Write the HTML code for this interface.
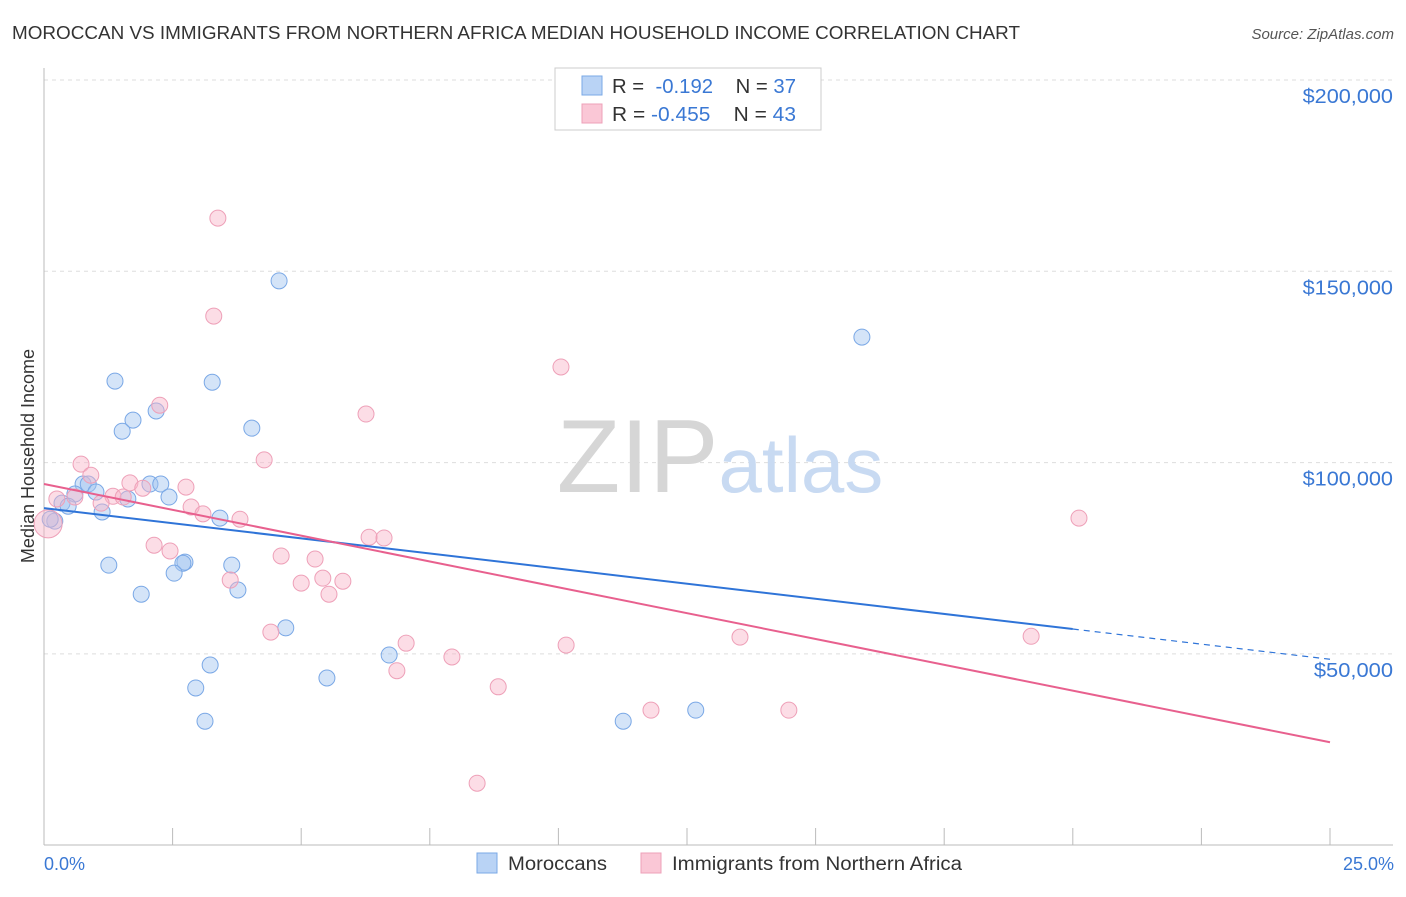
<!DOCTYPE html>
<html><head><meta charset="utf-8"><style>
body{margin:0;background:#fff;font-family:"Liberation Sans",sans-serif;}
svg text{font-family:"Liberation Sans",sans-serif;}
</style></head><body>
<svg id="chart" width="1406" height="892" xmlns="http://www.w3.org/2000/svg">
<text x="12" y="39" font-size="18" fill="#333" textLength="1008" lengthAdjust="spacingAndGlyphs">MOROCCAN VS IMMIGRANTS FROM NORTHERN AFRICA MEDIAN HOUSEHOLD INCOME CORRELATION CHART</text>
<text x="1394" y="39" font-size="15" fill="#555" text-anchor="end" font-style="italic">Source: ZipAtlas.com</text>
<g id="grid"></g>
<text x="720" y="492" font-size="104" text-anchor="middle" fill="#ddd" font-family="Liberation Serif"><tspan fill="#d6d6d6">ZIP</tspan><tspan fill="#c8daf2" font-family="Liberation Sans" font-size="78">atlas</tspan></text>
<g id="pts"></g>
<g id="lines"></g>
<text transform="translate(34,456) rotate(-90)" font-size="18" fill="#333" text-anchor="middle">Median Household Income</text>
<text x="44" y="870" font-size="18" fill="#3a78d4">0.0%</text>
<text x="1394" y="870" font-size="18" fill="#3a78d4" text-anchor="end">25.0%</text>
<g>
<rect x="555" y="68" width="266" height="62" fill="#fff" stroke="#ccc"/>
<rect x="582" y="76" width="20" height="19" fill="#b9d3f5" stroke="#7aa8e6"/>
<rect x="582" y="104" width="20" height="19" fill="#fac7d6" stroke="#eea0b8"/>
<text x="612" y="93" font-size="20" fill="#333" textLength="184" lengthAdjust="spacingAndGlyphs">R = <tspan fill="#3a78d4">&#160;-0.192</tspan>&#160;&#160;&#160;&#160;N = <tspan fill="#3a78d4">37</tspan></text>
<text x="612" y="121" font-size="20" fill="#333" textLength="184" lengthAdjust="spacingAndGlyphs">R = <tspan fill="#3a78d4">-0.455</tspan>&#160;&#160;&#160;&#160;N = <tspan fill="#3a78d4">43</tspan></text>
</g>
<g>
<rect x="477" y="853" width="20" height="20" fill="#b9d3f5" stroke="#7aa8e6"/>
<text x="508" y="870" font-size="19" fill="#333" textLength="99" lengthAdjust="spacingAndGlyphs">Moroccans</text>
<rect x="641" y="853" width="20" height="20" fill="#fac7d6" stroke="#eea0b8"/>
<text x="672" y="870" font-size="19" fill="#333" textLength="290" lengthAdjust="spacingAndGlyphs">Immigrants from Northern Africa</text>
</g>
</svg>
<script>
const yTicks=[50000,100000,150000,200000];
const yTickLabels=["$50,000","$100,000","$150,000","$200,000"];
const moroccoX=[4.57,15.90,1.38,3.27,2.18,1.73,1.52,4.04,0.76,0.86,2.06,2.27,1.01,0.60,2.43,1.63,0.35,0.47,1.13,3.42,0.21,0.12,1.26,3.65,2.74,2.70,2.53,3.77,1.89,4.70,6.71,3.23,5.50,2.95,12.67,3.13,11.26];
const moroccoY=[147.5,132.8,121.3,121.0,113.5,111.1,108.2,109.0,94.4,94.4,94.4,94.4,92.3,91.8,91.0,90.5,89.4,88.6,87.1,85.5,84.7,85.2,73.2,73.2,74.0,73.7,71.1,66.7,65.6,56.8,49.7,47.1,43.7,41.1,35.3,32.4,32.4];
const nafX=[3.38,3.30,10.05,2.25,6.26,4.28,0.72,0.91,2.76,1.67,1.92,1.34,1.54,0.60,0.25,1.11,2.86,3.09,3.81,20.12,6.32,6.61,2.14,2.45,4.61,5.27,5.42,3.62,5.00,5.81,5.54,4.41,13.53,19.19,10.15,7.04,7.93,6.86,8.83,11.80,14.48,8.42,0.08];
const nafY=[163.9,138.3,125.0,115.0,112.7,100.7,99.6,96.7,93.6,94.7,93.3,91.2,91.0,91.0,90.5,89.4,88.4,86.6,85.2,85.5,80.5,80.3,78.4,76.9,75.6,74.8,69.8,69.3,68.5,69.0,65.6,55.7,54.4,54.6,52.3,52.8,49.2,45.6,41.4,35.3,35.3,16.2,84.0];
const blueTrend=[88.1,48.6], pinkTrend=[94.4,26.9], blueSolidEnd=20.0;
const NS="http://www.w3.org/2000/svg";
const X=v=>44+v/25*1286;
const Y=v=>80+(200-v)*191.3/50;
function mk(t,a,p){const e=document.createElementNS(NS,t);for(const k in a)e.setAttribute(k,a[k]);document.getElementById(p).appendChild(e);return e;}
yTicks.forEach((t,i)=>{
 const g=mk('line',{x1:44,x2:1393,y1:Y(t/1000),y2:Y(t/1000),stroke:'#ddd','stroke-dasharray':'4,4'},'grid');
 
 
 const l=mk('text',{x:1393,y:Y(t/1000)+23,'font-size':20,fill:'#3a78d4','text-anchor':'end',textLength:yTickLabels[i].length*11.3,lengthAdjust:'spacingAndGlyphs'},'grid');
 l.textContent=yTickLabels[i];
 
 
});
mk('line',{x1:44,x2:44,y1:68,y2:845,stroke:'#bbb'},'grid');
mk('line',{x1:44,x2:1393,y1:845,y2:845,stroke:'#bbb'},'grid');
for(let i=0;i<=10;i++){const t=mk('line',{x1:X(i*2.5),x2:X(i*2.5),y1:828,y2:845,stroke:'#bbb'},'grid');
 
 }
moroccoX.forEach((x,i)=>{const c=mk('circle',{cx:X(x),cy:Y(moroccoY[i]),r:8,fill:'rgba(160,195,240,0.45)',stroke:'#7aa8e6','stroke-width':1},'pts');
 
 });
nafX.forEach((x,i)=>{const c=mk('circle',{cx:X(x),cy:Y(nafY[i]),r:i==nafX.length-1?14:8,fill:'rgba(248,180,200,0.45)',stroke:'#eea0b8','stroke-width':1},'pts');
 
 });
const bt=x=>blueTrend[0]+(blueTrend[1]-blueTrend[0])*x/25;
let l1=mk('line',{x1:X(0),y1:Y(bt(0)),x2:X(blueSolidEnd),y2:Y(bt(blueSolidEnd)),stroke:'#2f74d8','stroke-width':2},'lines');


let l2=mk('line',{x1:X(blueSolidEnd),y1:Y(bt(blueSolidEnd)),x2:X(25),y2:Y(bt(25)),stroke:'#2f74d8','stroke-width':1.2,'stroke-dasharray':'6,5'},'lines');


let l3=mk('line',{x1:X(0),y1:Y(pinkTrend[0]),x2:X(25),y2:Y(pinkTrend[1]),stroke:'#e8608e','stroke-width':2},'lines');


</script>
</body></html>
